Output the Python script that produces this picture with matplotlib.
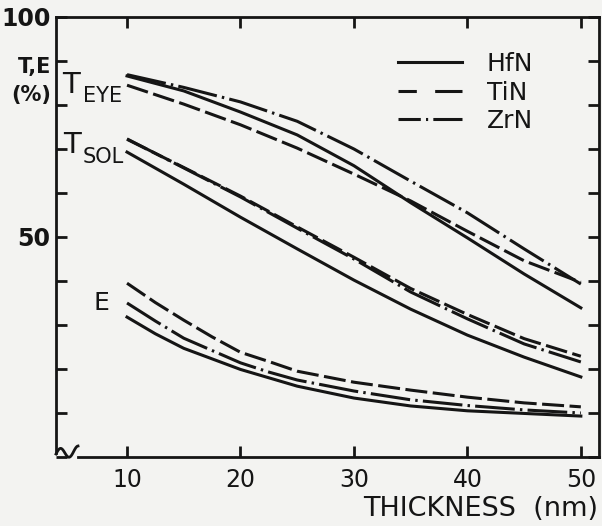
import matplotlib
matplotlib.use('Agg')
import matplotlib.pyplot as plt
from matplotlib.lines import Line2D
import numpy as np

# ── Daten ─────────────────────────────────────────────────────────────────────
thickness = [10, 15, 20, 25, 30, 35, 40, 45, 50]
thickness_e = [10, 12.5, 15, 17.5, 20, 22.5, 25, 30, 35, 40, 45, 50]

t_eye_hfn = [86.6, 83.2, 78.4, 73.2, 66.2, 57.8, 49.8, 41.6, 33.9]
t_eye_tin = [84.5, 80.2, 75.5, 70.2, 64.3, 58.2, 51.3, 44.6, 39.7]
t_eye_zrn = [86.9, 84.0, 80.7, 76.3, 70.0, 62.7, 55.5, 47.3, 39.3]

t_sol_hfn = [69.3, 62.0, 54.5, 47.3, 40.2, 33.6, 27.7, 22.7, 18.2]
t_sol_tin = [72.2, 65.8, 59.3, 52.3, 45.4, 38.3, 32.4, 26.9, 22.9]
t_sol_zrn = [72.3, 65.7, 59.1, 52.0, 45.0, 37.5, 31.4, 25.7, 21.6]

e_hfn = [31.8, 28.0, 24.7, 22.3, 19.9, 18.0, 16.1, 13.4, 11.6, 10.5, 9.9, 9.3]
e_tin = [39.5, 35.1, 31.1, 27.3, 23.8, 21.7, 19.5, 17.0, 15.2, 13.6, 12.3, 11.4]
e_zrn = [35.0, 30.9, 27.0, 24.2, 21.4, 19.3, 17.5, 15.0, 13.0, 11.7, 10.7, 10.0]

materials = ['HfN', 'TiN', 'ZrN']
x_ticks = [10, 20, 30, 40, 50]
y_ticks = list(range(0, 101, 10))
y_ticklabels = ['' if v not in (50, 100) else str(v) for v in y_ticks]

# ── Stil ──────────────────────────────────────────────────────────────────────
W, H = 602, 526
_INK = '#151515'
_BG = '#f3f3f1'
_LW = 2.2

styles = {
    'HfN': dict(linestyle='-'),
    'TiN': dict(dashes=(7.2, 1.8)),
    'ZrN': dict(dashes=(13, 1.7, 0.8, 1.7)),
}
legend_styles = {
    'HfN': dict(linestyle='-'),
    'TiN': dict(dashes=(6, 6, 10, 10)),
    'ZrN': dict(dashes=(7.3, 1.7, 0.7, 1.7, 10, 2)),
}


def px(x, y):
    """Pixelkoordinaten (oben links) -> Figurenanteil."""
    return x / W, 1 - y / H


fig = plt.figure(figsize=(W / 100, H / 100), dpi=100)
fig.patch.set_facecolor(_BG)
ax = fig.add_axes([56 / W, 1 - 457 / H, (599 - 56) / W, (457 - 17) / H])
ax.set_facecolor(_BG)

ax.set_xlim(3.74, 51.6)
ax.set_ylim(0, 100)

groups = [
    (thickness, (t_eye_hfn, t_eye_tin, t_eye_zrn)),
    (thickness, (t_sol_hfn, t_sol_tin, t_sol_zrn)),
    (thickness_e, (e_hfn, e_tin, e_zrn)),
]
for xs, group in groups:
    for mat, vals in zip(materials, group):
        ax.plot(xs, vals, color=_INK, linewidth=_LW,
                solid_joinstyle='round', dash_capstyle='butt',
                **styles[mat])

# Rahmen
for name, spine in ax.spines.items():
    spine.set_linewidth(2.0)
    spine.set_color(_INK)
ax.spines['left'].set_bounds(1.0, 100)
ax.spines['bottom'].set_bounds(5.68, 51.6)

# Achsenbruch unten links
sx = np.linspace(0, 1, 80)
squig_x = (22 * sx) / (599 - 56)
squig_y = (457 - (454.0 - 5.0 * np.sin(2 * np.pi * sx * 1.25) - 3.0 * sx)) / (457 - 17)
ax.plot(squig_x, squig_y, transform=ax.transAxes, color=_INK,
        linewidth=2.0, clip_on=False)

ax.set_xticks(x_ticks)
ax.set_xticklabels([str(v) for v in x_ticks])
ax.set_yticks(y_ticks)
ax.set_yticklabels(y_ticklabels)
ax.tick_params(axis='x', direction='in', length=8, width=2, top=True,
               bottom=True, pad=8, colors=_INK, labelsize=17)
ax.tick_params(axis='y', direction='in', length=8, width=2, left=True,
               right=True, pad=4, colors=_INK, labelsize=17)
for lbl in ax.get_yticklabels():
    lbl.set_fontweight('bold')

# Achsentitel
fig.text(*px(51, 73), 'T,E', ha='right', va='baseline', fontsize=15,
         fontweight='bold', color=_INK)
fig.text(*px(51, 101), '(%)', ha='right', va='baseline', fontsize=15,
         fontweight='bold', color=_INK)
fig.text(*px(598, 516), 'THICKNESS  (nm)', ha='right', va='baseline',
         fontsize=19.5, color=_INK)

# Kurvenbeschriftung
fig.text(*px(62, 93), 'T', ha='left', va='baseline', fontsize=21, color=_INK)
fig.text(*px(83, 102), 'EYE', ha='left', va='baseline', fontsize=15, color=_INK)
fig.text(*px(63, 153), 'T', ha='left', va='baseline', fontsize=21, color=_INK)
fig.text(*px(83, 163), 'SOL', ha='left', va='baseline', fontsize=15, color=_INK)
fig.text(*px(94, 310), 'E', ha='left', va='baseline', fontsize=18, color=_INK)

# Legende
handles = [Line2D([], [], color=_INK, linewidth=_LW, dash_capstyle='butt',
                  **legend_styles[m]) for m in materials]
leg = ax.legend(handles, materials, loc='upper left',
                bbox_to_anchor=((398 - 56) / 543, 1 - (52 - 17) / 440),
                frameon=False, fontsize=18, handlelength=2.56,
                handletextpad=1.0, labelspacing=0.18, borderpad=0,
                borderaxespad=0)
for txt in leg.get_texts():
    txt.set_color(_INK)

fig.savefig('out.png', dpi=100, facecolor=_BG)
